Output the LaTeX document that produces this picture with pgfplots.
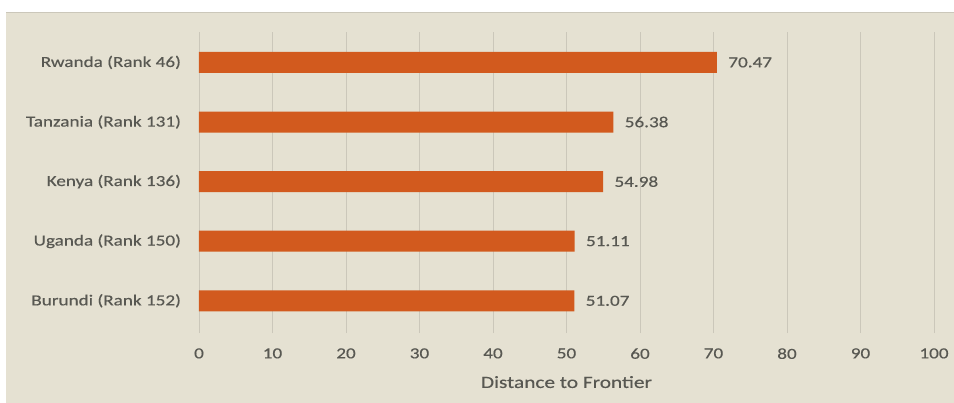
\documentclass[border=0pt]{standalone}
\usepackage{pgfplots}
\pgfplotsset{compat=1.18}
\usepackage{fontspec}
\setmainfont[FakeStretch=1.25,FakeBold=0.4]{Carlito}
\definecolor{bg}{RGB}{229,225,210}
\definecolor{barc}{RGB}{210,90,30}
\definecolor{txt}{RGB}{88,88,82}
\definecolor{gridc}{RGB}{203,199,186}
\begin{document}
\begin{tikzpicture}
\fill[white] (0pt,0pt) rectangle (715.5pt,-302.25pt);
\useasboundingbox (0pt,0pt) rectangle (715.5pt,-302.25pt);
\fill[bg] (4.5pt,-9pt) rectangle (715.5pt,-302.25pt);
\draw[gridc, line width=0.75pt] (4.5pt,-9.4pt) -- (715.5pt,-9.4pt);
\begin{axis}[
  at={(149.25pt,-249.75pt)}, anchor=south west, scale only axis,
  width=551.25pt, height=225.75pt,
  xmin=0, xmax=100, ymin=-0.54, ymax=4.51,
  xbar, bar width=15.75pt, bar shift=0pt,
  axis line style={draw=none},
  major tick length=0pt,
  xtick={0,10,...,100},
  ytick={0,1,2,3,4},
  yticklabels={Burundi (Rank 152),Uganda (Rank 150),Kenya (Rank 136),Tanzania (Rank 131),Rwanda (Rank 46)},
  xmajorgrids, grid style={gridc, line width=0.7pt},
  tick label style={font=\fontsize{11.5}{13}\selectfont, text=txt},
  /pgf/number format/assume math mode=true,
  yticklabel style={xshift=-10pt},
  xticklabel style={yshift=-8pt},
  xlabel={Distance to Frontier},
  xlabel style={font=\fontsize{12.8}{14}\selectfont, text=txt, yshift=-6pt},
  point meta=explicit symbolic,
  nodes near coords,
  nodes near coords style={font=\fontsize{11.5}{13}\selectfont, text=txt, anchor=west, xshift=5pt},
]
\addplot[fill=barc, draw=none] coordinates {
  (51.07,0) [51.07]
  (51.11,1) [51.11]
  (54.98,2) [54.98]
  (56.38,3) [56.38]
  (70.47,4) [70.47]
};
\end{axis}
\end{tikzpicture}
\end{document}
